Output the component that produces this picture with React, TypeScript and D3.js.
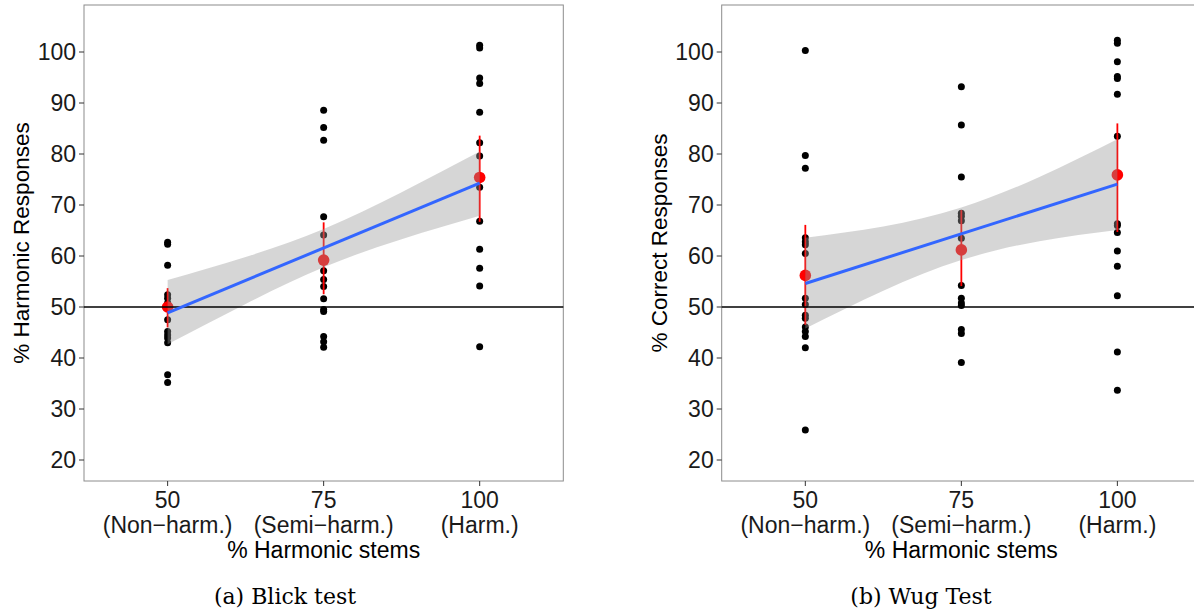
import React from "react";
import * as d3 from "d3";

// ---------- data ----------
const conditions = [50, 75, 100];
const tickTop = ["50", "75", "100"];
const tickBottom = ["(Non\u2212harm.)", "(Semi\u2212harm.)", "(Harm.)"];
const yTicks = [20, 30, 40, 50, 60, 70, 80, 90, 100];

const blick50 = [62.7, 62.3, 58.2, 52.4, 51.7, 50.8, 47.5, 45.2, 44.5, 43.9, 43.0, 36.7, 35.2];
const blick75 = [88.6, 85.2, 82.7, 67.7, 64.1, 57.1, 55.4, 54.0, 51.6, 49.5, 49.1, 44.2, 43.2, 42.1];
const blick100 = [101.3, 100.8, 94.9, 93.8, 88.2, 82.2, 79.6, 73.5, 66.8, 61.3, 57.6, 54.1, 42.2];
const blickMeans = [50.0, 59.2, 75.4];
const blickLo = [46.0, 52.5, 66.7];
const blickHi = [53.7, 66.6, 83.6];
const blickFit = [48.85, 74.3];
const ribbonX = [50, 62.5, 75, 87.5, 100];
const blickRibbonLo = [42.7, 50.6, 57.8, 63.3, 67.9];
const blickRibbonHi = [55.3, 59.8, 65.3, 72.5, 80.5];

const wug50 = [100.3, 79.7, 77.2, 63.6, 62.8, 62.2, 60.5, 51.7, 50.5, 48.4, 47.8, 46.1, 45.2, 44.2, 42.0, 25.9];
const wug75 = [93.2, 85.7, 75.5, 68.4, 67.8, 66.9, 63.5, 54.2, 51.7, 50.8, 50.3, 45.6, 44.8, 39.1];
const wug100 = [102.3, 101.7, 98.1, 95.2, 94.8, 91.7, 83.5, 66.3, 66.0, 64.6, 61.0, 58.0, 52.2, 41.2, 33.7];
const wugMeans = [56.2, 61.2, 75.9];
const wugLo = [46.5, 54.1, 64.7];
const wugHi = [66.1, 69.0, 86.0];
const wugFit = [54.6, 74.1];
const wugRibbonLo = [45.8, 53.2, 59.2, 62.9, 65.1];
const wugRibbonHi = [63.6, 65.8, 69.5, 75.5, 82.9];

const SANS = "'Liberation Sans', Arial, Helvetica, sans-serif";
const SERIF = "'DejaVu Serif', 'Liberation Serif', serif";

type PanelProps = {
  x0: number;
  x1: number;
  yTitle: string;
  caption: string;
  captionX: number;
  groups: number[][];
  means: number[];
  lo: number[];
  hi: number[];
  fit: number[];
  rLo: number[];
  rHi: number[];
};

function Panel(p: PanelProps) {
  const top = 5;
  const bottom = 481;
  const x = d3.scaleLinear().domain([36.6, 113.4]).range([p.x0, p.x1]);
  const y = d3.scaleLinear().domain([20, 100]).range([460, 52]);

  const area = d3
    .area<number>()
    .x((_, i) => x(ribbonX[i]))
    .y0((_, i) => y(p.rLo[i]))
    .y1((_, i) => y(p.rHi[i]))
    .curve(d3.curveNatural);
  const fitLine = d3
    .line<number>()
    .x((_, i) => x([50, 100][i]))
    .y((d) => y(d));

  const cx = (p.x0 + p.x1) / 2;

  return (
    <g>
      {/* panel background & border */}
      <rect x={p.x0} y={top} width={p.x1 - p.x0} height={bottom - top} fill="#fff" stroke="#8c8c8c" strokeWidth={1} />

      {/* raw points */}
      {p.groups.map((g, gi) =>
        g.map((v, i) => <circle key={`p${gi}-${i}`} cx={x(conditions[gi])} cy={y(v)} r={3.5} fill="#000" />)
      )}

      {/* error bars and means */}
      {conditions.map((c, i) => (
        <g key={`m${i}`}>
          <line x1={x(c)} x2={x(c)} y1={y(p.lo[i])} y2={y(p.hi[i])} stroke="#ff0000" strokeWidth={1.8} />
          <circle cx={x(c)} cy={y(p.means[i])} r={5.8} fill="#ff0000" />
        </g>
      ))}

      {/* confidence ribbon */}
      <path d={area(ribbonX) || ""} fill="#999999" fillOpacity={0.4} />

      {/* reference line at 50 */}
      <line x1={p.x0} x2={p.x1} y1={y(50)} y2={y(50)} stroke="#000" strokeWidth={1.6} />

      {/* fitted line */}
      <path d={fitLine(p.fit) || ""} fill="none" stroke="#3366FF" strokeWidth={3} />

      {/* y axis */}
      {yTicks.map((t) => (
        <g key={`yt${t}`}>
          <line x1={p.x0 - 5} x2={p.x0} y1={y(t)} y2={y(t)} stroke="#333" strokeWidth={1} />
          <text x={p.x0 - 8} y={y(t)} dy="0.36em" textAnchor="end" fontFamily={SANS} fontSize={23} fill="#1a1a1a">
            {t}
          </text>
        </g>
      ))}
      <text
        transform={`translate(${p.x0 - 55},${(top + bottom) / 2}) rotate(-90)`}
        textAnchor="middle"
        fontFamily={SANS}
        fontSize={22.5}
        fill="#000"
      >
        {p.yTitle}
      </text>

      {/* x axis */}
      {conditions.map((c, i) => (
        <g key={`xt${c}`}>
          <line x1={x(c)} x2={x(c)} y1={bottom} y2={bottom + 5} stroke="#333" strokeWidth={1} />
          <text x={x(c)} y={508} textAnchor="middle" fontFamily={SANS} fontSize={23} fill="#1a1a1a">
            {tickTop[i]}
          </text>
          <text x={x(c)} y={533} textAnchor="middle" fontFamily={SANS} fontSize={23} fill="#1a1a1a">
            {tickBottom[i]}
          </text>
        </g>
      ))}
      <text x={cx} y={558} textAnchor="middle" fontFamily={SANS} fontSize={23} fill="#000">
        % Harmonic stems
      </text>

      {/* caption */}
      <text x={p.captionX} y={604} textAnchor="middle" fontFamily={SERIF} fontSize={22} fill="#000">
        {p.caption}
      </text>
    </g>
  );
}

export default function App() {
  return (
    <svg
      width={1194}
      height={613}
      viewBox="0 0 1194 613"
      style={{ position: "absolute", left: 0, top: 0, background: "#fff" }}
    >
      <rect x={0} y={0} width={1194} height={613} fill="#fff" />
      <Panel
        x0={84}
        x1={563.3}
        yTitle="% Harmonic Responses"
        caption="(a) Blick test"
        captionX={285}
        groups={[blick50, blick75, blick100]}
        means={blickMeans}
        lo={blickLo}
        hi={blickHi}
        fit={blickFit}
        rLo={blickRibbonLo}
        rHi={blickRibbonHi}
      />
      <Panel
        x0={721.7}
        x1={1201}
        yTitle="% Correct Responses"
        caption="(b) Wug Test"
        captionX={921}
        groups={[wug50, wug75, wug100]}
        means={wugMeans}
        lo={wugLo}
        hi={wugHi}
        fit={wugFit}
        rLo={wugRibbonLo}
        rHi={wugRibbonHi}
      />
    </svg>
  );
}
